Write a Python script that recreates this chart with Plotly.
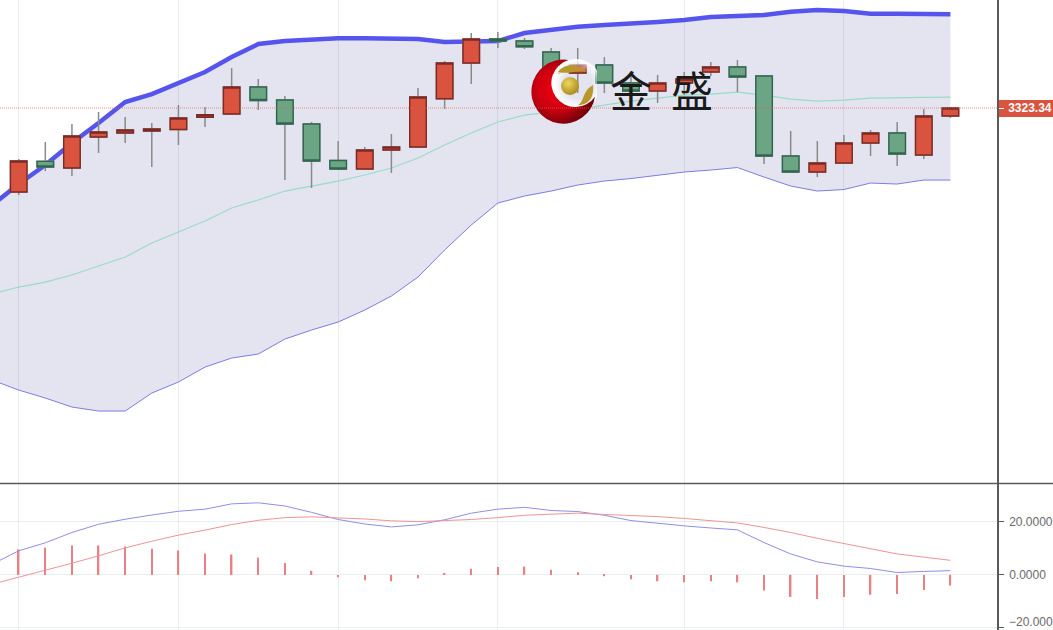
import base64
import plotly.graph_objects as go

candle_x = list(range(36))
band_x = list(range(-1, 36))
grid_x = [0, 6, 12, 18, 25, 31]

opens = [3239.3, 3270, 3263.3, 3294.3, 3298.3, 3300.3, 3301.8, 3314, 3317.3, 3344.3, 3331.3, 3307.3,
         3270.8, 3262.3, 3281.3, 3284.3, 3332.6, 3368.3, 3392.3, 3390.3, 3379.3, 3358.3, 3366.3, 3348.3,
         3340.3, 3348.3, 3359.3, 3364.3, 3355.3, 3275.3, 3259.3, 3268.3, 3288.3, 3298.3, 3276.3, 3315.3]
highs = [3272.3, 3289.3, 3307.3, 3319.3, 3314.3, 3308.3, 3326.3, 3324.3, 3363.3, 3352.3, 3335.3, 3309.3,
         3290.3, 3284.3, 3297.3, 3343.3, 3370.3, 3398.3, 3399.3, 3393.3, 3383.3, 3383.3, 3374.3, 3357.3,
         3356.3, 3359.3, 3369.3, 3371.3, 3356.3, 3300.3, 3290.3, 3296.3, 3301.3, 3309.3, 3322.3, 3324.3]
lows = [3236.3, 3260.3, 3255.3, 3278.3, 3288.3, 3264.3, 3286.3, 3304.3, 3316.3, 3321.3, 3251.3, 3243.3,
        3261.3, 3262.3, 3258.3, 3284.3, 3322.3, 3347.3, 3383.3, 3382.3, 3353.3, 3338.3, 3338.3, 3326.3,
        3328.3, 3336.3, 3355.3, 3339.3, 3267.3, 3259.3, 3254.3, 3268.3, 3275.3, 3265.3, 3272.3, 3313.3]
closes = [3270.3, 3264.3, 3295.3, 3299.3, 3301.3, 3302.3, 3313.3, 3316.6, 3344.3, 3330.8, 3307.3, 3270.3,
          3262.3, 3281.3, 3284.3, 3334.3, 3368.3, 3392.3, 3390.3, 3384.6, 3358.3, 3366.3, 3348.3, 3340.3,
          3348.3, 3352.3, 3364.3, 3354.3, 3275.3, 3259.3, 3268.3, 3288.3, 3298.3, 3277.3, 3315.3, 3323.34]

boll_upper = [3226.3, 3247.3, 3266.3, 3288.3, 3308.3, 3329.3, 3337.3, 3348.3, 3359.3, 3374.3, 3387.3, 3390.3,
              3392, 3393, 3393, 3392.3, 3392.3, 3389.3, 3389.3, 3390.3, 3398.3, 3401.8, 3404.6, 3406.3,
              3407.3, 3409.3, 3411.3, 3414.3, 3415.3, 3416.3, 3419.6, 3421.3, 3420.3, 3417.6, 3417.6, 3417.3, 3417]
boll_mid = [3137.3, 3144.3, 3149.3, 3156.3, 3165.3, 3174.3, 3188.3, 3199.3, 3210.3, 3223.3, 3231.3, 3240.3,
            3245.3, 3250.3, 3256.3, 3263.3, 3273.3, 3286.3, 3298.3, 3309.3, 3316.3, 3319.3, 3322.3, 3326.3,
            3330.3, 3333.3, 3336.3, 3337.3, 3339.3, 3336.3, 3332.3, 3330.3, 3331.3, 3333.3, 3333.3, 3334, 3334.3]
boll_lower = [3051.3, 3041.3, 3033.3, 3024.3, 3020.3, 3020.3, 3038.3, 3049.3, 3064.3, 3073.3, 3077.3, 3092.3,
              3101.3, 3109.3, 3121.3, 3135.3, 3154.3, 3181.3, 3206.3, 3228.3, 3235.3, 3240.3, 3246.3, 3250.3,
              3252.8, 3255.8, 3259.3, 3261.3, 3263.8, 3254.3, 3245.3, 3240.3, 3241.8, 3248.3, 3247.3, 3251.3, 3251.3]

macd_dif = [4.0, 9.1, 12.1, 16.0, 19.1, 21.0, 22.6, 24.0, 24.8, 26.8, 27.2, 26.0, 23.6, 20.9, 19.2, 18.1, 18.9,
            20.8, 23.3, 24.8, 25.5, 24.3, 23.9, 22.5, 20.5, 19.4, 18.5, 17.7, 17.0, 12.2, 7.9, 4.9, 3.3, 2.4,
            0.9, 1.3, 1.6]
macd_dea = [-3.5, -0.9, 1.8, 4.4, 7.2, 10.2, 12.7, 15.0, 16.9, 19.0, 20.6, 21.6, 21.9, 21.6, 21.1, 20.4, 20.1,
            20.5, 20.9, 21.6, 22.5, 22.9, 23.3, 22.8, 22.5, 22.0, 21.3, 20.5, 19.6, 17.9, 16.0, 13.8, 11.9, 9.9,
            7.9, 6.7, 5.5]
macd_hist = [9.6, 10.3, 11.1, 11.1, 10.7, 9.9, 9.2, 8.1, 7.7, 6.5, 4.5, 1.5, -0.9, -2, -2.4, -1.3, 0.6, 2.3,
             3.0, 3.1, 1.9, 1.0, -0.5, -1.6, -2.4, -2.8, -2.4, -2.8, -5.9, -8.3, -9.1, -8.3, -7.5, -7.2, -5.7, -4.0]

last_price = 3323.34
price_label = "3323.34"
macd_ticks = [-20, 0, 20]
macd_labels = ["", "0.0000", "20.0000"]
macd_bottom_label = "−20.000"

W, H = 1053, 630
AXIS_X = 997
X_RANGE = [-0.7025, 36.75]
UP, UP_EDGE = "#d9533f", "#7c2a24"
DOWN, DOWN_EDGE = "#6ba584", "#2f6650"
GRID = "#e9edf4"
AXIS = "#5a5a5a"

fig = go.Figure()

fig.add_trace(go.Scatter(x=band_x, y=boll_upper, mode="lines", line=dict(color="#5555ee", width=4.5),
                         xaxis="x", yaxis="y", showlegend=False, hoverinfo="skip"))
fig.add_trace(go.Scatter(x=band_x, y=boll_lower, mode="lines", line=dict(color="#7d7de0", width=1),
                         fill="tonexty", fillcolor="rgba(72,72,160,0.145)",
                         xaxis="x", yaxis="y", showlegend=False, hoverinfo="skip"))
fig.add_trace(go.Scatter(x=band_x, y=boll_mid, mode="lines", line=dict(color="#98dcc4", width=1.2),
                         xaxis="x", yaxis="y", showlegend=False, hoverinfo="skip"))

# candles sit on an overlaid axis so that they are drawn above the band lines
fig.add_trace(go.Candlestick(x=candle_x, open=opens, high=highs, low=lows, close=closes,
                             increasing=dict(line=dict(color="#8a8a8a", width=1.5), fillcolor=UP),
                             decreasing=dict(line=dict(color="#8a8a8a", width=1.5), fillcolor=DOWN),
                             xaxis="x", yaxis="y3", showlegend=False, hoverinfo="skip"))
fig.add_trace(go.Candlestick(x=candle_x, open=opens, close=closes,
                             high=[max(o, c) for o, c in zip(opens, closes)],
                             low=[min(o, c) for o, c in zip(opens, closes)],
                             increasing=dict(line=dict(color=UP_EDGE, width=1.4), fillcolor=UP),
                             decreasing=dict(line=dict(color=DOWN_EDGE, width=1.4), fillcolor=DOWN),
                             xaxis="x", yaxis="y3", showlegend=False, hoverinfo="skip"))

fig.add_trace(go.Bar(x=candle_x, y=macd_hist, width=0.055, marker=dict(color="#e98083", line=dict(width=0)),
                     xaxis="x2", yaxis="y2", showlegend=False, hoverinfo="skip"))
fig.add_trace(go.Scatter(x=band_x, y=macd_dif, mode="lines", line=dict(color="#8f8fe6", width=1),
                         xaxis="x2", yaxis="y2", showlegend=False, hoverinfo="skip"))
fig.add_trace(go.Scatter(x=band_x, y=macd_dea, mode="lines", line=dict(color="#ee9494", width=1),
                         xaxis="x2", yaxis="y2", showlegend=False, hoverinfo="skip"))

logo_svg = """<svg xmlns='http://www.w3.org/2000/svg' viewBox='0 0 66 66' width='264' height='264'>
<defs><radialGradient id='g' gradientUnits='userSpaceOnUse' cx='26' cy='30' r='38'>
<stop offset='0' stop-color='#f2000f'/><stop offset='0.55' stop-color='#cc0010'/><stop offset='1' stop-color='#6e0008'/>
</radialGradient>
<radialGradient id='b' cx='0.4' cy='0.35' r='0.7'>
<stop offset='0' stop-color='#ecd860'/><stop offset='1' stop-color='#a88618'/>
</radialGradient>
<radialGradient id='w' gradientUnits='userSpaceOnUse' cx='47' cy='25' r='26'>
<stop offset='0.55' stop-color='#ffffff' stop-opacity='0'/><stop offset='0.9' stop-color='#ffffff' stop-opacity='0.92'/>
</radialGradient></defs>
<circle cx='45' cy='25' r='25' fill='url(#w)'/>
<path d='M37.3 1 A32 32 0 1 0 64 37.7 A24 24 0 1 1 37.3 1 Z' fill='url(#g)'/>
<path d='M27 13 C33 4 47 4 56 13 C47 10 38 16 27 13 Z' fill='#b8982a'/>
<path d='M47 46 C54 42 51 32 62 26 C63 36 60 46 47 46 Z' fill='#b8982a'/>
<circle cx='39' cy='27' r='9' fill='url(#b)'/></svg>"""
logo_uri = "data:image/svg+xml;base64," + base64.b64encode(logo_svg.encode()).decode()

fig.update_layout(
    width=W, height=H, autosize=False,
    margin=dict(l=0, r=0, t=0, b=0, pad=0),
    paper_bgcolor="white", plot_bgcolor="white",
    showlegend=False, barmode="overlay", boxgap=0.38, boxgroupgap=0,
    xaxis=dict(domain=[0, AXIS_X / W], range=X_RANGE, anchor="y", rangeslider=dict(visible=False),
               tickvals=grid_x, showticklabels=False, ticks="", showgrid=True, gridcolor=GRID, gridwidth=1,
               zeroline=False, showline=False),
    yaxis=dict(domain=[147 / H, 1], range=[2948.34, 3431.34], side="right", anchor="x",
               tickvals=[last_price], ticktext=[price_label], ticks="outside", ticklen=5, tickcolor="white", tickwidth=1,
               ticklabelstandoff=2, ticklabeloverflow="allow",
               tickfont=dict(family="Liberation Sans", size=12, color="white", weight="bold"),
               showgrid=False, zeroline=False, showline=True, linecolor=AXIS, linewidth=1.5),
    yaxis3=dict(overlaying="y", range=[2948.34, 3431.34], side="right", anchor="x", visible=False),
    xaxis2=dict(domain=[0, AXIS_X / W], range=X_RANGE, anchor="y2", matches="x",
                tickvals=grid_x, showticklabels=False, ticks="", showgrid=True, gridcolor=GRID, gridwidth=1,
                zeroline=False, showline=False),
    yaxis2=dict(domain=[0, 146 / H], range=[-20.8, 34.3], side="right", anchor="x2",
                tickvals=macd_ticks, ticktext=macd_labels, ticks="outside", ticklen=5, tickcolor=AXIS, tickwidth=1,
                ticklabelstandoff=3, ticklabeloverflow="allow",
                tickfont=dict(family="Liberation Sans", size=12, color="#6a6a6a"),
                showgrid=True, gridcolor=GRID, gridwidth=1, zeroline=False,
                showline=True, linecolor=AXIS, linewidth=1.5),
    shapes=[
        dict(type="rect", xref="paper", yref="y", x0=AXIS_X / W, x1=1, y0=last_price - 9, y1=last_price + 8,
             fillcolor="#d9533f", line=dict(width=0), layer="below"),
        dict(type="line", xref="x", yref="y", x0=X_RANGE[0], x1=X_RANGE[1], y0=last_price, y1=last_price,
             line=dict(color="#e0604c", width=0.7, dash="1px,1px"), layer="above"),
        dict(type="line", xref="paper", yref="paper", x0=0, x1=1, y0=146.5 / H, y1=146.5 / H,
             line=dict(color=AXIS, width=1.5), layer="above"),
    ],
    images=[dict(source=logo_uri, xref="paper", yref="paper", x=531 / W, y=1 - 59 / H,
                 sizex=66 / W, sizey=66 / H, xanchor="left", yanchor="top", layer="above", sizing="stretch")],
    annotations=[
        dict(text="金", xref="paper", yref="paper", x=630.5 / W, y=1 - 89 / H, showarrow=False,
             font=dict(family="Noto Sans CJK SC", size=42, color="#1a1a1a"), xanchor="center", yanchor="middle"),
        dict(text="盛", xref="paper", yref="paper", x=692 / W, y=1 - 89 / H, showarrow=False,
             font=dict(family="Noto Sans CJK SC", size=42, color="#1a1a1a"), xanchor="center", yanchor="middle"),
        dict(text=macd_bottom_label, xref="paper", yref="paper", x=1008 / W, y=0, showarrow=False, borderpad=0,
             font=dict(family="Liberation Sans", size=12, color="#6a6a6a"), xanchor="left", yanchor="bottom"),
    ],
)

fig.write_html("out.html", config=dict(displayModeBar=False),
               post_script="document.body.style.margin='0';")
